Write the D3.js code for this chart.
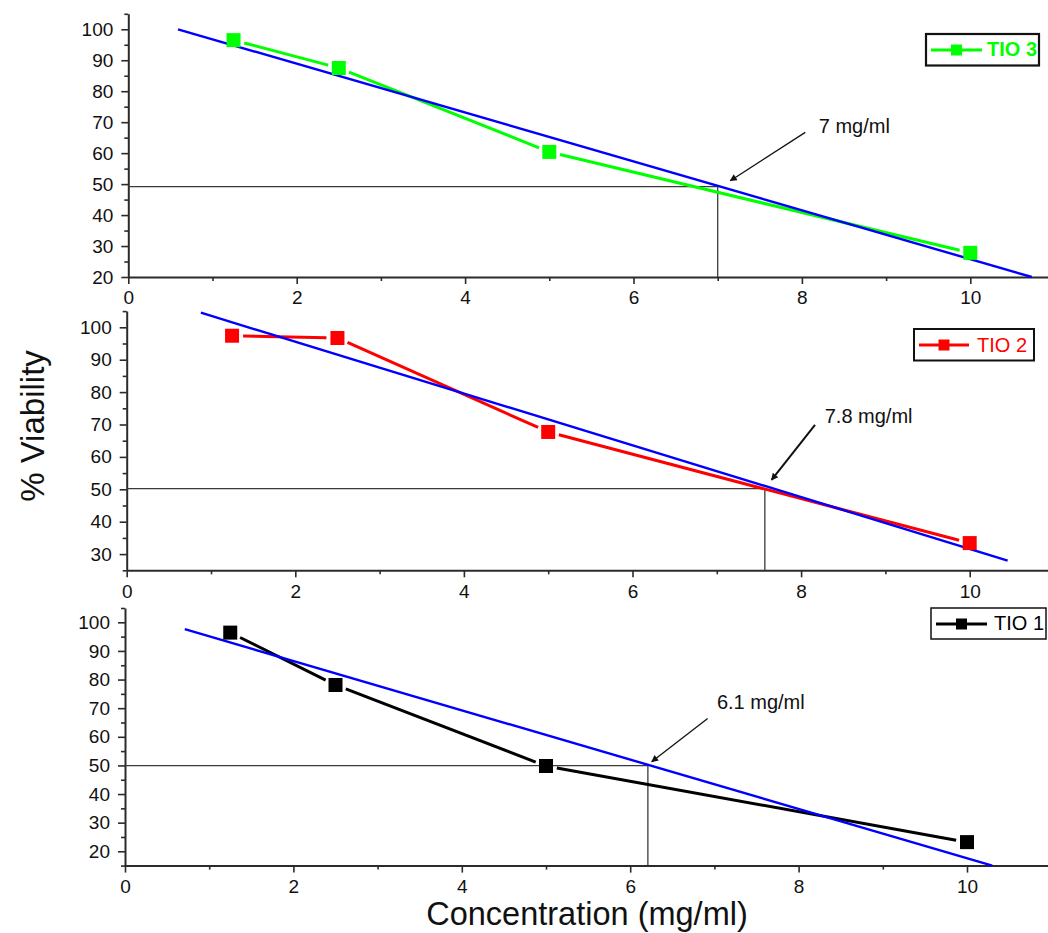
<!DOCTYPE html>
<html>
<head>
<meta charset="utf-8">
<script src="https://cdn.jsdelivr.net/npm/d3@7"></script>
<style>
  body { margin: 0; background: #fff; }
  svg { display: block; font-family: "Liberation Sans", Arial, sans-serif; }
</style>
</head>
<body>
<svg id="chart" width="1048" height="933"></svg>
<script>
// ---- data ----
const concentration = [1.25, 2.5, 5, 10];          // mg/ml
const tio3 = [96.5, 87.5, 60.4, 27.8];             // % viability
const tio2 = [97.4, 96.7, 67.7, 33.4];
const tio1 = [96.4, 78.1, 49.8, 23.2];
const seriesNames = ["TIO 3", "TIO 2", "TIO 1"];
const seriesColors = ["#00ff00", "#ff0000", "#000000"];

// linear fit end points [concentration, viability]
const fitTio3 = [[0.59, 100], [10.73, 20]];
const fitTio2 = [[0.88, 104.5], [10.45, 28.0]];
const fitTio1 = [[0.71, 97.6], [10.30, 15.0]];

// IC50 readings
const ic50Values = [7, 7.8, 6.1];
const halfX = [7.0, 7.57, 6.21];
const halfY = [49.2, 50.2, 49.9];

const xTicks = [0, 2, 4, 6, 8, 10];
const xMinorTicks = [1, 3, 5, 7, 9, 11];

// ---- layout ----
const panels = [
  { values: tio3, fit: fitTio3, yDomain: [20, 105], x0: 128.3, xUnit: 84.2, yBottom: 277, yTop: 13.8,
    arrow: [[8.04, 66.7], [7.15, 51.1]], label: [8.2, 66.5], arrowWidth: 1.3,
    legend: { x: 926, y: 34, w: 113, h: 31.5, lx1: 931, lx2: 982, ly: 50, tx: 987, ty: 56, bold: true, stroke: 2.2 } },
  { values: tio2, fit: fitTio2, yDomain: [25, 105], x0: 126.7, xUnit: 84.3, yBottom: 570.3, yTop: 311.1,
    arrow: [[8.165, 69.85], [7.65, 52.9]], label: [8.28, 70.4], arrowWidth: 2,
    legend: { x: 914, y: 329, w: 120, h: 31.5, lx1: 919, lx2: 969, ly: 345, tx: 977, ty: 351.7, bold: false, stroke: 2 } },
  { values: tio1, fit: fitTio1, yDomain: [15, 105], x0: 125, xUnit: 84.2, yBottom: 865.6, yTop: 608,
    arrow: [[6.92, 66.4], [6.255, 51.3]], label: [7.03, 69.6], arrowWidth: 1.3,
    legend: { x: 931, y: 608, w: 115, h: 31, lx1: 936, lx2: 987, ly: 624, tx: 994, ty: 630, bold: false, stroke: 1.5 } }
];

const svg = d3.select("#chart");
const axisColor = "#2b2b2b";
const textColor = "#111";

svg.append("defs").append("marker")
  .attr("id", "arrowhead")
  .attr("viewBox", "0 0 10 10")
  .attr("refX", 9).attr("refY", 5)
  .attr("markerUnits", "userSpaceOnUse")
  .attr("markerWidth", 9).attr("markerHeight", 7)
  .attr("orient", "auto")
  .append("path").attr("d", "M0,0 L10,5 L0,10 Z").attr("fill", "#111");

panels.forEach((p, i) => {
  const x = d3.scaleLinear().domain([0, 11]).range([p.x0, p.x0 + 11 * p.xUnit]);
  const y = d3.scaleLinear().domain(p.yDomain).range([p.yBottom, p.yTop]);
  const g = svg.append("g");

  const yMajor = d3.range(Math.ceil(p.yDomain[0] / 10) * 10, p.yDomain[1] + 0.1, 10);
  const yMinor = d3.range(Math.ceil(p.yDomain[0] / 5) * 5, p.yDomain[1] + 0.1, 5).filter(v => v % 10 !== 0);

  // minor ticks
  g.append("g").attr("transform", `translate(${p.x0},0)`)
    .call(d3.axisLeft(y).tickValues(yMinor).tickSize(4).tickSizeOuter(0).tickFormat(""))
    .call(a => a.select(".domain").remove());
  g.append("g").attr("transform", `translate(0,${p.yBottom})`)
    .call(d3.axisBottom(x).tickValues(xMinorTicks).tickSize(4).tickSizeOuter(0).tickFormat(""))
    .call(a => a.select(".domain").remove());

  // major axes
  g.append("g").attr("transform", `translate(${p.x0},0)`)
    .call(d3.axisLeft(y).tickValues(yMajor).tickSize(7).tickSizeOuter(0).tickPadding(8));
  g.append("g").attr("transform", `translate(0,${p.yBottom})`)
    .call(d3.axisBottom(x).tickValues(xTicks).tickSize(7).tickSizeOuter(0).tickPadding(7));

  g.selectAll(".domain").attr("stroke", axisColor).attr("stroke-width", 2);
  g.selectAll(".tick line").attr("stroke", axisColor).attr("stroke-width", 1.6);
  g.selectAll(".tick text").attr("fill", textColor).attr("font-size", 19)
    .attr("font-family", "'Liberation Sans', Arial, sans-serif");

  // 50 % guide lines
  const hx = x(halfX[i]), hy = y(halfY[i]);
  g.append("line").attr("x1", p.x0).attr("x2", hx).attr("y1", hy).attr("y2", hy)
    .attr("stroke", "#3a3a3a").attr("stroke-width", 1.3);
  g.append("line").attr("x1", hx).attr("x2", hx).attr("y1", hy).attr("y2", p.yBottom)
    .attr("stroke", "#3a3a3a").attr("stroke-width", 1.3);

  // data line with gaps around the symbols
  const pts = concentration.map((c, k) => [x(c), y(p.values[k])]);
  const gap = 11;
  for (let k = 0; k < pts.length - 1; k++) {
    const [ax, ay] = pts[k], [bx, by] = pts[k + 1];
    const len = Math.hypot(bx - ax, by - ay);
    const ux = (bx - ax) / len, uy = (by - ay) / len;
    g.append("line")
      .attr("x1", ax + ux * gap).attr("y1", ay + uy * gap)
      .attr("x2", bx - ux * gap).attr("y2", by - uy * gap)
      .attr("stroke", seriesColors[i]).attr("stroke-width", 3);
  }

  // linear fit
  g.append("line")
    .attr("x1", x(p.fit[0][0])).attr("y1", y(p.fit[0][1]))
    .attr("x2", x(p.fit[1][0])).attr("y2", y(p.fit[1][1]))
    .attr("stroke", "#0000ff").attr("stroke-width", 2.4);

  // symbols
  g.selectAll("rect.sym").data(concentration).join("rect")
    .attr("class", "sym")
    .attr("x", (c) => x(c) - 7).attr("y", (c, k) => y(p.values[k]) - 7)
    .attr("width", 14).attr("height", 14)
    .attr("fill", seriesColors[i]);

  // IC50 annotation
  g.append("line")
    .attr("x1", x(p.arrow[0][0])).attr("y1", y(p.arrow[0][1]))
    .attr("x2", x(p.arrow[1][0])).attr("y2", y(p.arrow[1][1]))
    .attr("stroke", "#111").attr("stroke-width", p.arrowWidth)
    .attr("marker-end", "url(#arrowhead)");
  g.append("text")
    .attr("x", x(p.label[0])).attr("y", y(p.label[1]))
    .attr("font-size", 20).attr("fill", textColor)
    .text(`${ic50Values[i]} mg/ml`);

  // legend
  const L = p.legend;
  g.append("rect").attr("x", L.x).attr("y", L.y).attr("width", L.w).attr("height", L.h)
    .attr("fill", "#fff").attr("stroke", "#111").attr("stroke-width", L.stroke);
  g.append("line").attr("x1", L.lx1).attr("x2", L.lx2).attr("y1", L.ly).attr("y2", L.ly)
    .attr("stroke", seriesColors[i]).attr("stroke-width", 3);
  g.append("rect").attr("x", (L.lx1 + L.lx2) / 2 - 5.5).attr("y", L.ly - 5.5)
    .attr("width", 11).attr("height", 11).attr("fill", seriesColors[i]);
  g.append("text").attr("x", L.tx).attr("y", L.ty)
    .attr("font-size", 20).attr("font-weight", L.bold ? "bold" : "normal")
    .attr("fill", seriesColors[i]).text(seriesNames[i]);
});

// axis titles
svg.append("text")
  .attr("transform", "translate(44,426) rotate(-90)")
  .attr("text-anchor", "middle")
  .attr("font-size", 33).attr("fill", textColor)
  .text("% Viability");
svg.append("text")
  .attr("x", 587).attr("y", 925)
  .attr("text-anchor", "middle")
  .attr("font-size", 32.5).attr("fill", textColor)
  .text("Concentration (mg/ml)");
</script>
</body>
</html>
